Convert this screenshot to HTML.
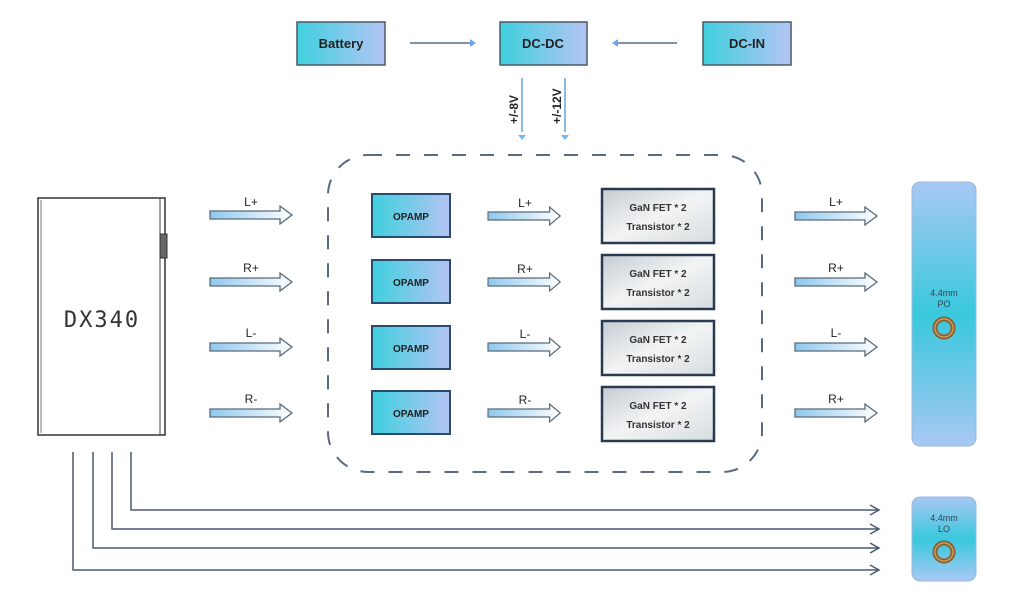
<!DOCTYPE html>
<html><head><meta charset="utf-8"><style>
body{margin:0;background:#fff;}
svg{display:block;font-family:"Liberation Sans",Arial,sans-serif;}
</style></head><body>
<svg width="1020" height="596" viewBox="0 0 1020 596" xmlns="http://www.w3.org/2000/svg">
<defs>
<linearGradient id="tb" x1="0" y1="0" x2="1" y2="0"><stop offset="0" stop-color="#3fd0de"/><stop offset="1" stop-color="#b4c4f4"/></linearGradient>
<linearGradient id="gn" x1="0" y1="0" x2="1" y2="1"><stop offset="0" stop-color="#c4ccd2"/><stop offset="0.5" stop-color="#f2f4f4"/><stop offset="1" stop-color="#d6dcde"/></linearGradient>
<linearGradient id="pv" x1="0" y1="0" x2="0" y2="1"><stop offset="0" stop-color="#a8c8f4"/><stop offset="0.5" stop-color="#38c8dc"/><stop offset="1" stop-color="#a8c8f4"/></linearGradient>
<linearGradient id="ha" x1="0" y1="0" x2="1" y2="0"><stop offset="0" stop-color="#8ec8ee"/><stop offset="1" stop-color="#ffffff"/></linearGradient>
<g id="harrow"><path d="M0,-4 L70,-4 L70,-9 L82,0 L70,9 L70,4 L0,4 Z" fill="url(#ha)" stroke="#5a6a78" stroke-width="1.3"/></g>
<g id="ring"><circle r="9" fill="none" stroke="#8a6030" stroke-width="5"/><circle r="9" fill="none" stroke="#c89a5a" stroke-width="1.5"/></g>
</defs>
<g font-weight="bold" font-size="13" fill="#222" text-anchor="middle">
<rect x="297" y="22" width="88" height="43" fill="url(#tb)" stroke="#4a5a66" stroke-width="1.5"/>
<text x="341" y="48">Battery</text>
<rect x="500" y="22" width="87" height="43" fill="url(#tb)" stroke="#4a5a66" stroke-width="1.5"/>
<text x="543" y="48">DC-DC</text>
<rect x="703" y="22" width="88" height="43" fill="url(#tb)" stroke="#4a5a66" stroke-width="1.5"/>
<text x="747" y="48">DC-IN</text>
</g>
<line x1="410" y1="43" x2="470" y2="43" stroke="#5a6e88" stroke-width="1.5"/>
<path d="M470,39 L476,43 L470,47Z" fill="#6fa8e8"/>
<line x1="677" y1="43" x2="618" y2="43" stroke="#5a6e88" stroke-width="1.5"/>
<path d="M618,39 L612,43 L618,47Z" fill="#6fa8e8"/>
<line x1="522" y1="78" x2="522" y2="132" stroke="#6aa0dc" stroke-width="1.5"/>
<path d="M518,135 L526,135 L522,140Z" fill="#6fb8ee"/>
<line x1="565" y1="78" x2="565" y2="132" stroke="#6aa0dc" stroke-width="1.5"/>
<path d="M561,135 L569,135 L565,140Z" fill="#6fb8ee"/>
<text transform="translate(518,124) rotate(-90)" font-size="12" font-weight="bold" fill="#222">+/-8V</text>
<text transform="translate(561,124) rotate(-90)" font-size="12" font-weight="bold" fill="#222">+/-12V</text>
<rect x="328" y="155" width="434" height="317" rx="40" fill="none" stroke="#5a6a80" stroke-width="2" stroke-dasharray="14,14"/>
<rect x="38" y="198" width="127" height="237" fill="#fff" stroke="#333" stroke-width="1.5"/>
<line x1="41" y1="200" x2="41" y2="433" stroke="#555" stroke-width="0.8"/>
<line x1="160" y1="198" x2="160" y2="435" stroke="#444" stroke-width="1"/>
<rect x="160" y="234" width="7" height="24" fill="#666" stroke="#333"/>
<text x="102" y="327" font-size="22" fill="#333" text-anchor="middle" letter-spacing="2" font-family="'DejaVu Sans Mono',monospace">DX340</text>
<g stroke="#4a5a70" stroke-width="1.5" fill="none">
<path d="M73,452 V570 H878"/><path d="M93,452 V548 H878"/><path d="M112,452 V529 H878"/><path d="M131,452 V510 H878"/>
<path d="M870,565 L879,570 L870,575"/><path d="M870,543 L879,548 L870,553"/><path d="M870,524 L879,529 L870,534"/><path d="M870,505 L879,510 L870,515"/>
</g>
<g font-size="12" fill="#222" text-anchor="middle">
<use href="#harrow" x="210" y="215"/><text x="251" y="206">L+</text>
<use href="#harrow" x="210" y="282"/><text x="251" y="272">R+</text>
<use href="#harrow" x="210" y="347"/><text x="251" y="337">L-</text>
<use href="#harrow" x="210" y="413"/><text x="251" y="403">R-</text>
<use href="#harrow" x="488" y="216" transform="translate(488,216) scale(0.88,1) translate(-488,-216)"/>
<text x="525" y="207">L+</text>
<use href="#harrow" x="488" y="282" transform="translate(488,282) scale(0.88,1) translate(-488,-282)"/>
<text x="525" y="273">R+</text>
<use href="#harrow" x="488" y="347" transform="translate(488,347) scale(0.88,1) translate(-488,-347)"/>
<text x="525" y="338">L-</text>
<use href="#harrow" x="488" y="413" transform="translate(488,413) scale(0.88,1) translate(-488,-413)"/>
<text x="525" y="404">R-</text>
<use href="#harrow" x="795" y="216"/><text x="836" y="206">L+</text>
<use href="#harrow" x="795" y="282"/><text x="836" y="272">R+</text>
<use href="#harrow" x="795" y="347"/><text x="836" y="337">L-</text>
<use href="#harrow" x="795" y="413"/><text x="836" y="403">R+</text>
</g>
<g font-size="10" font-weight="bold" fill="#222" text-anchor="middle">
<rect x="372" y="194" width="78" height="43" fill="url(#tb)" stroke="#2a4a70" stroke-width="2"/><text x="411" y="220">OPAMP</text>
<rect x="372" y="260" width="78" height="43" fill="url(#tb)" stroke="#2a4a70" stroke-width="2"/><text x="411" y="286">OPAMP</text>
<rect x="372" y="326" width="78" height="43" fill="url(#tb)" stroke="#2a4a70" stroke-width="2"/><text x="411" y="352">OPAMP</text>
<rect x="372" y="391" width="78" height="43" fill="url(#tb)" stroke="#2a4a70" stroke-width="2"/><text x="411" y="417">OPAMP</text>
</g>
<g font-size="10" font-weight="bold" fill="#333" text-anchor="middle">
<rect x="602" y="189" width="112" height="54" fill="url(#gn)" stroke="#2a3a50" stroke-width="2.5"/><text x="658" y="211">GaN FET * 2</text><text x="658" y="230">Transistor * 2</text>
<rect x="602" y="255" width="112" height="54" fill="url(#gn)" stroke="#2a3a50" stroke-width="2.5"/><text x="658" y="277">GaN FET * 2</text><text x="658" y="296">Transistor * 2</text>
<rect x="602" y="321" width="112" height="54" fill="url(#gn)" stroke="#2a3a50" stroke-width="2.5"/><text x="658" y="343">GaN FET * 2</text><text x="658" y="362">Transistor * 2</text>
<rect x="602" y="387" width="112" height="54" fill="url(#gn)" stroke="#2a3a50" stroke-width="2.5"/><text x="658" y="409">GaN FET * 2</text><text x="658" y="428">Transistor * 2</text>
</g>
<rect x="912" y="182" width="64" height="264" rx="8" fill="url(#pv)" stroke="#9ab8d8"/>
<g font-size="9" fill="#345" text-anchor="middle"><text x="944" y="296">4.4mm</text><text x="944" y="307">PO</text></g>
<use href="#ring" x="944" y="328"/>
<rect x="912" y="497" width="64" height="84" rx="8" fill="url(#pv)" stroke="#9ab8d8"/>
<g font-size="9" fill="#345" text-anchor="middle"><text x="944" y="521">4.4mm</text><text x="944" y="532">LO</text></g>
<use href="#ring" x="944" y="552"/>
</svg>
</body></html>
